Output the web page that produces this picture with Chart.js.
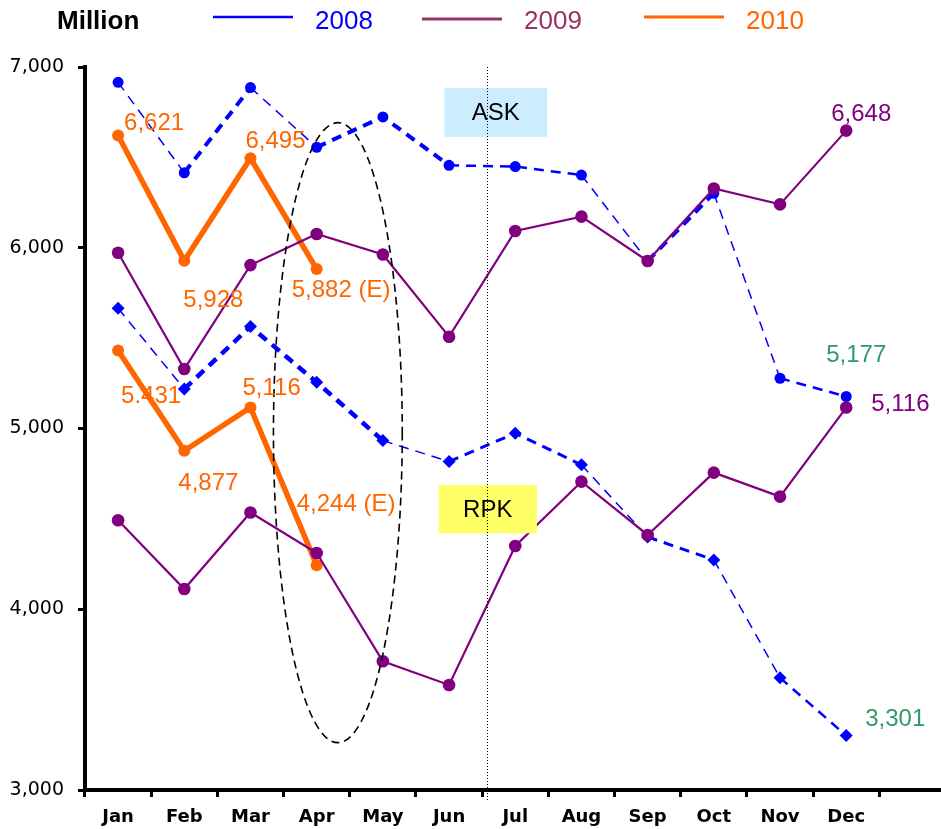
<!DOCTYPE html>
<html>
<head>
<meta charset="utf-8">
<script src="https://cdn.jsdelivr.net/npm/chart.js@4"></script>
<style>
  html, body { margin: 0; padding: 0; background: #fff; overflow: hidden; }
  #wrap { position: relative; width: 952px; height: 829px; }
</style>
</head>
<body>
<div id="wrap"><canvas id="myChart"></canvas></div>
<script>
// Monthly traffic, million. Last category is an empty slot after Dec.
const months = ['Jan', 'Feb', 'Mar', 'Apr', 'May', 'Jun', 'Jul', 'Aug', 'Sep', 'Oct', 'Nov', 'Dec', ''];
const yTicks = [3000, 4000, 5000, 6000, 7000];

// ASK
const ask2008 = [6915, 6415, 6886, 6556, 6724, 6456, 6449, 6402, 5927, 6301, 5278, 5177];
const ask2009 = [5972, 5329, 5904, 6076, 5963, 5508, 6093, 6172, 5927, 6328, 6240, 6648];
const ask2010 = [6621, 5928, 6495, 5882];

// RPK
const rpk2008 = [5665, 5219, 5564, 5256, 4933, 4817, 4974, 4799, 4400, 4273, 3621, 3301];
const rpk2009 = [4492, 4112, 4535, 4311, 3712, 3581, 4350, 4706, 4411, 4756, 4623, 5116];
const rpk2010 = [5431, 4877, 5116, 4244];

const BLUE = '#0000FF';
const PURPLE = '#800080';
const ORANGE = '#FF6600';
const GREEN = '#339966';

// per-segment line widths for the dashed 2008 lines
const askWidths2008 = [1.5, 4, 1.5, 4, 4, 2.5, 2.5, 1.5, 4, 1.5, 2.5];
const rpkWidths2008 = [1.5, 4.5, 4.5, 4.5, 1.5, 3, 3, 1.5, 3, 1.5, 2.5];

// value labels: [dataset index, point index, text, dx, dy, colour]
const valueLabels = [
  [4, 0, '6,621', 6, -12, ORANGE],
  [4, 1, '5,928', -1, 40, ORANGE],
  [4, 2, '6,495', -5, -17, ORANGE],
  [4, 3, '5,882 (E)', -25, 21, ORANGE],
  [5, 0, '5.431', 3, 46, ORANGE],
  [5, 1, '4,877', -6, 33, ORANGE],
  [5, 2, '5,116', -8, -19, ORANGE],
  [5, 3, '4,244 (E)', -20, -61, ORANGE],
  [2, 11, '6,648', -15, -16, PURPLE],
  [3, 11, '5,116', 25, -3, PURPLE],
  [0, 11, '5,177', -20, -41, GREEN],
  [1, 11, '3,301', 19, -16, GREEN]
];

const overlayPlugin = {
  id: 'overlay',
  afterDatasetsDraw(chart) {
    const ctx = chart.ctx;
    const x = chart.scales.x;
    const y = chart.scales.y;

    // ASK / RPK boxes
    const box = (x0, x1, v0, v1, fill, text) => {
      const px0 = x.getPixelForValue(x0), px1 = x.getPixelForValue(x1);
      const py0 = y.getPixelForValue(v0), py1 = y.getPixelForValue(v1);
      ctx.fillStyle = fill;
      ctx.fillRect(px0, py0, px1 - px0, py1 - py0);
      ctx.fillStyle = '#000';
      ctx.font = '24px "Liberation Sans", Arial, sans-serif';
      ctx.textAlign = 'center';
      ctx.textBaseline = 'middle';
      ctx.fillText(text, (px0 + px1) / 2, (py0 + py1) / 2 + 1);
    };
    ctx.save();
    box(4.93, 6.48, 6884, 6614, '#CCECFF', 'ASK');
    box(4.843, 6.327, 4687, 4420, '#FFFF66', 'RPK');

    // dotted divider between Jun and Jul
    const dx = Math.round(x.getPixelForValue(5.57)) + 0.5;
    ctx.strokeStyle = '#000';
    ctx.lineWidth = 1;
    ctx.setLineDash([1, 2]);
    ctx.beginPath();
    ctx.moveTo(dx, y.getPixelForValue(7000));
    ctx.lineTo(dx, y.bottom + 10);
    ctx.stroke();

    // dashed ellipse around Apr/May
    const cx = x.getPixelForValue(3.32);
    const rx = x.getPixelForValue(3.32 + 0.973) - cx;
    const cy = y.getPixelForValue(4977);
    const ry = cy - y.getPixelForValue(4977 + 1715);
    ctx.lineWidth = 1.6;
    ctx.setLineDash([8, 5]);
    ctx.beginPath();
    ctx.ellipse(cx, cy, rx, ry, 0, 0, Math.PI * 2);
    ctx.stroke();
    ctx.setLineDash([]);

    // value labels
    ctx.font = '24px "Liberation Sans", Arial, sans-serif';
    ctx.textAlign = 'left';
    ctx.textBaseline = 'middle';
    valueLabels.forEach(([ds, i, text, ox, oy, color]) => {
      const pt = chart.getDatasetMeta(ds).data[i];
      ctx.fillStyle = color;
      ctx.fillText(text, pt.x + ox, pt.y + oy);
    });
    ctx.restore();
  },
  afterDraw(chart) {
    // header: unit and series key
    const ctx = chart.ctx;
    ctx.save();
    ctx.textBaseline = 'middle';
    ctx.textAlign = 'left';
    ctx.fillStyle = '#000';
    ctx.font = 'bold 26px "Liberation Sans", Arial, sans-serif';
    ctx.fillText('Million', 57, 22);
    const keys = [
      ['2008', BLUE, BLUE, 213, 2.5, 17],
      ['2009', '#993366', '#993366', 422, 3, 19],
      ['2010', ORANGE, ORANGE, 644, 3, 17]
    ];
    ctx.font = '26px "Liberation Sans", Arial, sans-serif';
    keys.forEach(([text, lineColor, textColor, lx, lw, ly]) => {
      ctx.strokeStyle = lineColor;
      ctx.lineWidth = lw;
      ctx.beginPath();
      ctx.moveTo(lx, ly);
      ctx.lineTo(lx + 80, ly);
      ctx.stroke();
      ctx.fillStyle = textColor;
      ctx.fillText(text, lx + 102, 22);
    });
    ctx.restore();
  }
};

const ctx = document.getElementById('myChart').getContext('2d');

const myChart = new Chart(ctx, {
  type: 'line',
  data: {
    labels: months,
    datasets: [
      {
        label: 'ASK 2008', data: ask2008, order: 1,
        borderColor: BLUE, backgroundColor: BLUE, borderWidth: 2,
        borderDash: [10, 7],
        segment: { borderWidth: c => askWidths2008[c.p0DataIndex] },
        pointStyle: 'circle', pointRadius: 5.5, pointBorderWidth: 0
      },
      {
        label: 'RPK 2008', data: rpk2008, order: 1,
        borderColor: BLUE, backgroundColor: BLUE, borderWidth: 2,
        borderDash: [10, 7],
        segment: { borderWidth: c => rpkWidths2008[c.p0DataIndex] },
        pointStyle: 'rectRot', pointRadius: 6.5, pointBorderWidth: 0
      },
      {
        label: 'ASK 2009', data: ask2009, order: 0,
        borderColor: PURPLE, backgroundColor: PURPLE, borderWidth: 2.2,
        pointStyle: 'circle', pointRadius: 6.3, pointBorderWidth: 0
      },
      {
        label: 'RPK 2009', data: rpk2009, order: 0,
        borderColor: PURPLE, backgroundColor: PURPLE, borderWidth: 2.2,
        pointStyle: 'circle', pointRadius: 6.3, pointBorderWidth: 0
      },
      {
        label: 'ASK 2010', data: ask2010, order: 2,
        borderColor: ORANGE, backgroundColor: ORANGE, borderWidth: 5.5,
        pointStyle: 'circle', pointRadius: 6, pointBorderWidth: 0
      },
      {
        label: 'RPK 2010', data: rpk2010, order: 2,
        borderColor: ORANGE, backgroundColor: ORANGE, borderWidth: 5.5,
        pointStyle: 'circle', pointRadius: 6, pointBorderWidth: 0
      }
    ]
  },
  options: {
    responsive: true,
    maintainAspectRatio: false,
    animation: false,
    layout: { padding: { top: 67, left: 0, right: 0, bottom: 0 } },
    plugins: {
      legend: { display: false },
      tooltip: { enabled: false }
    },
    scales: {
      x: {
        offset: true,
        border: { color: '#000', width: 4 },
        grid: {
          offset: true, drawOnChartArea: false, drawTicks: true,
          tickLength: 7, tickWidth: 3, tickColor: '#000'
        },
        ticks: {
          color: '#000', padding: 10, autoSkip: false, maxRotation: 0,
          font: { family: '"DejaVu Sans", Verdana, sans-serif', size: 18, weight: 'bold' }
        },
        afterFit: s => { s.height = 39; }
      },
      y: {
        min: 3000, max: 7000,
        border: { color: '#000', width: 4 },
        grid: {
          drawOnChartArea: false, drawTicks: true,
          tickLength: 7, tickWidth: 3, tickColor: '#000'
        },
        afterBuildTicks: s => { s.ticks = yTicks.map(v => ({ value: v })); },
        ticks: {
          color: '#000', padding: 14,
          font: { family: '"DejaVu Sans", Verdana, sans-serif', size: 19 },
          callback: v => v.toLocaleString('en-US')
        },
        afterFit: s => { s.width = 85; }
      }
    }
  },
  plugins: [overlayPlugin]
});
</script>
</body>
</html>
